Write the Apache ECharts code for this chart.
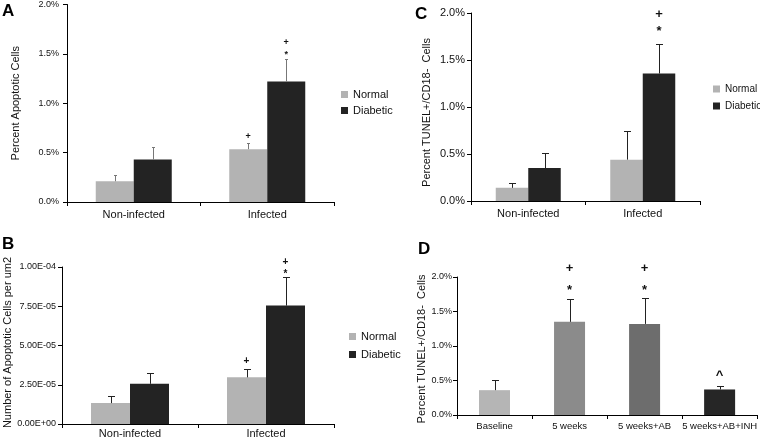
<!DOCTYPE html>
<html><head><meta charset="utf-8">
<script src="https://cdn.jsdelivr.net/npm/echarts@6/dist/echarts.min.js"></script>
<style>html,body{margin:0;padding:0;background:#fff}#c{width:760px;height:439px}</style>
</head><body><div id="c"></div>
<script>
// ---------- data ----------
const groupCats = ['Non-infected', 'Infected'];
const seriesNames = ['Normal', 'Diabetic'];

// Panel A: Percent Apoptotic Cells (%)
const aNormal = [0.21, 0.535];
const aNormalErr = [0.06, 0.065];
const aDiabetic = [0.43, 1.22];
const aDiabeticErr = [0.125, 0.23];
const aMarks = [[1, 0, 0.665, '+'], [1, 1, 1.52, '*'], [1, 1, 1.61, '+']];

// Panel B: Number of Apoptotic Cells per um2
const bNormal = [1.33e-5, 2.97e-5];
const bNormalErr = [0.43e-5, 0.53e-5];
const bDiabetic = [2.56e-5, 7.54e-5];
const bDiabeticErr = [0.70e-5, 1.82e-5];
const bMarks = [[1, 0, 4.0e-5, '+'], [1, 1, 9.73e-5, '*'], [1, 1, 10.28e-5, '+']];

// Panel C: Percent TUNEL+/CD18- Cells (%)
const cNormal = [0.14, 0.44];
const cNormalErr = [0.05, 0.31];
const cDiabetic = [0.35, 1.356];
const cDiabeticErr = [0.16, 0.317];
const cMarks = [[1, 1, 1.84, '*'], [1, 1, 1.985, '+']];

// Panel D: Percent TUNEL+/CD18- Cells (%)
const dCats = ['Baseline', '5 weeks', '5 weeks+AB', '5 weeks+AB+INH'];
const dValues = [0.36, 1.35, 1.32, 0.37];
const dErr = [0.145, 0.325, 0.37, 0.05];
const dMarks = [[1, 0, 1.865, '*'], [1, 0, 2.12, '+'], [2, 0, 1.865, '*'], [2, 0, 2.12, '+'], [3, 0, 0.615, '^']];

const pctTicks = {min: 0, max: 2.0, interval: 0.5};
const sciTicks = {min: 0, max: 1.0e-4, interval: 2.5e-5};

// ---------- styles ----------
const FONT = 'Liberation Sans, Arial, sans-serif';
const NORMAL_C = '#b3b3b3';
const DIAB_C = '#232323';
const dColors = ['#b5b5b5', '#8b8b8b', '#6d6d6d', '#262626'];

function pctFmt(v) { return v.toFixed(1) + '%'; }
function sciFmt(v) {
  if (v === 0) return '0.00E+00';
  let e = Math.floor(Math.log10(v));
  let m = v / Math.pow(10, e);
  if (m >= 9.995) { m /= 10; e += 1; }
  if (m < 0.9995) { m *= 10; e -= 1; }
  const ae = Math.abs(e);
  return m.toFixed(2) + 'E' + (e < 0 ? '-' : '+') + (ae < 10 ? '0' : '') + ae;
}

function errSeries(axis, vals, errs, slot, nSlots, barW, capW, color) {
  return {
    type: 'custom', xAxisIndex: axis, yAxisIndex: axis, silent: true, z: 5,
    data: vals.map((v, i) => [i, v, v + errs[i]]),
    renderItem: function (params, api) {
      const b = api.coord([api.value(0), api.value(1)]);
      const t = api.coord([api.value(0), api.value(2)]);
      const x = Math.round(b[0] + (slot - (nSlots - 1) / 2) * barW) + 0.5;
      const ty = Math.round(t[1]) + 0.5;
      const st = {stroke: color, lineWidth: 1};
      return {type: 'group', children: [
        {type: 'line', shape: {x1: x, y1: b[1], x2: x, y2: ty}, style: st},
        {type: 'line', shape: {x1: x - capW / 2, y1: ty, x2: x + capW / 2, y2: ty}, style: st}
      ]};
    }
  };
}

function markSeries(axis, marks, nSlots, barW, fontSize) {
  return {
    type: 'custom', xAxisIndex: axis, yAxisIndex: axis, silent: true, z: 6, clip: false,
    data: marks.map(m => [m[0], m[2]]),
    renderItem: function (params, api) {
      const m = marks[params.dataIndex];
      const p = api.coord([api.value(0), api.value(1)]);
      const x = p[0] + (m[1] - (nSlots - 1) / 2) * barW;
      const txt = m[3];
      let dy = 0;
      if (txt === '*') dy = fontSize * 0.28;
      if (txt === '^') dy = fontSize * 0.2;
      return {type: 'text', x: x, y: p[1] + dy, style: {
        text: txt, fontSize: fontSize, fontWeight: 'bold', fontFamily: FONT, fill: '#111',
        align: 'center', verticalAlign: 'middle'
      }};
    }
  };
}

function xAxisCfg(grid, cats, fontSize, margin) {
  return {
    type: 'category', gridIndex: grid, data: cats,
    axisLine: {lineStyle: {color: '#000', width: 1}},
    axisTick: {show: true, length: 4, lineStyle: {color: '#000'}},
    axisLabel: {color: '#111', fontSize: fontSize, fontFamily: FONT, margin: margin, interval: 0, hideOverlap: false},
    splitLine: {show: false}
  };
}
function yAxisCfg(grid, ticks, fmt, fontSize, margin, name, nameGap, namePad) {
  return {
    type: 'value', gridIndex: grid, min: ticks.min, max: ticks.max, interval: ticks.interval,
    axisLine: {show: true, lineStyle: {color: '#000', width: 1}},
    axisTick: {show: true, length: 4, lineStyle: {color: '#000'}},
    axisLabel: {color: '#111', fontSize: fontSize, fontFamily: FONT, margin: margin, formatter: fmt},
    splitLine: {show: false},
    name: name, nameLocation: 'middle', nameRotate: 90, nameGap: nameGap,
    nameTextStyle: {color: '#111', fontSize: 11, fontFamily: FONT, padding: namePad || 0}
  };
}
function legendCfg(left, top, gap, fs) {
  return {
    data: seriesNames, orient: 'vertical', left: left, top: top, padding: 0,
    itemWidth: 7, itemHeight: 7, itemGap: gap, icon: 'rect',
    textStyle: {fontSize: fs, fontFamily: FONT, color: '#111'}
  };
}
function barPair(axis, normal, diab, barW) {
  return [
    {type: 'bar', name: seriesNames[0], xAxisIndex: axis, yAxisIndex: axis, data: normal,
     barWidth: barW, barGap: '0%', itemStyle: {color: NORMAL_C}},
    {type: 'bar', name: seriesNames[1], xAxisIndex: axis, yAxisIndex: axis, data: diab,
     barWidth: barW, barGap: '0%', itemStyle: {color: DIAB_C}}
  ];
}
const letterStyle = {fontSize: 17, fontWeight: 'bold', color: '#000', fontFamily: FONT};

const chart = echarts.init(document.getElementById('c'), null, {renderer: 'canvas'});
const option = {
  animation: false,
  backgroundColor: '#fff',
  textStyle: {fontFamily: FONT},
  title: [
    {text: 'A', left: 2, top: 3, textStyle: letterStyle, padding: 0},
    {text: 'B', left: 2, top: 236, textStyle: letterStyle, padding: 0},
    {text: 'C', left: 415, top: 6, textStyle: letterStyle, padding: 0},
    {text: 'D', left: 418, top: 241, textStyle: letterStyle, padding: 0}
  ],
  legend: [legendCfg(341, 89, 5, 11), legendCfg(349, 331, 7, 11), legendCfg(713, 84, 7, 10)],
  grid: [
    {left: 67, top: 3.5, width: 267, height: 198.5},
    {left: 62, top: 267, width: 272, height: 157},
    {left: 471, top: 13, width: 229, height: 188},
    {left: 457, top: 277, width: 301, height: 138}
  ],
  xAxis: [
    xAxisCfg(0, groupCats, 11, 7),
    xAxisCfg(1, groupCats, 11, 4),
    xAxisCfg(2, groupCats, 11, 7),
    xAxisCfg(3, dCats, 9.5, 6)
  ],
  yAxis: [
    yAxisCfg(0, pctTicks, pctFmt, 9, 8, 'Percent Apoptotic Cells', 46),
    yAxisCfg(1, sciTicks, sciFmt, 9, 6, 'Number of Apoptotic Cells per um2', 49, [0, 0, 0, 6]),
    yAxisCfg(2, pctTicks, pctFmt, 11, 6, 'Percent TUNEL+/CD18-  Cells', 39, [0, 11, 0, 0]),
    yAxisCfg(3, pctTicks, pctFmt, 9, 5, 'Percent TUNEL+/CD18-  Cells', 27, [0, 6, 0, 0])
  ],
  series: [
    ...barPair(0, aNormal, aDiabetic, 38),
    errSeries(0, aNormal, aNormalErr, 0, 2, 38, 3, '#777'),
    errSeries(0, aDiabetic, aDiabeticErr, 1, 2, 38, 3, '#777'),
    markSeries(0, aMarks, 2, 38, 9),

    ...barPair(1, bNormal, bDiabetic, 39),
    errSeries(1, bNormal, bNormalErr, 0, 2, 39, 7, '#222'),
    errSeries(1, bDiabetic, bDiabeticErr, 1, 2, 39, 7, '#222'),
    markSeries(1, bMarks, 2, 39, 10),

    ...barPair(2, cNormal, cDiabetic, 32.5),
    errSeries(2, cNormal, cNormalErr, 0, 2, 32.5, 7, '#222'),
    errSeries(2, cDiabetic, cDiabeticErr, 1, 2, 32.5, 7, '#222'),
    markSeries(2, cMarks, 2, 32.5, 13),

    {type: 'bar', name: 'Treatment', xAxisIndex: 3, yAxisIndex: 3, barWidth: 31,
     data: dValues.map((v, i) => ({value: v, itemStyle: {color: dColors[i]}}))},
    errSeries(3, dValues, dErr, 0, 1, 31, 7, '#222'),
    markSeries(3, dMarks, 1, 31, 13)
  ]
};
chart.setOption(option);
</script>
</body></html>
